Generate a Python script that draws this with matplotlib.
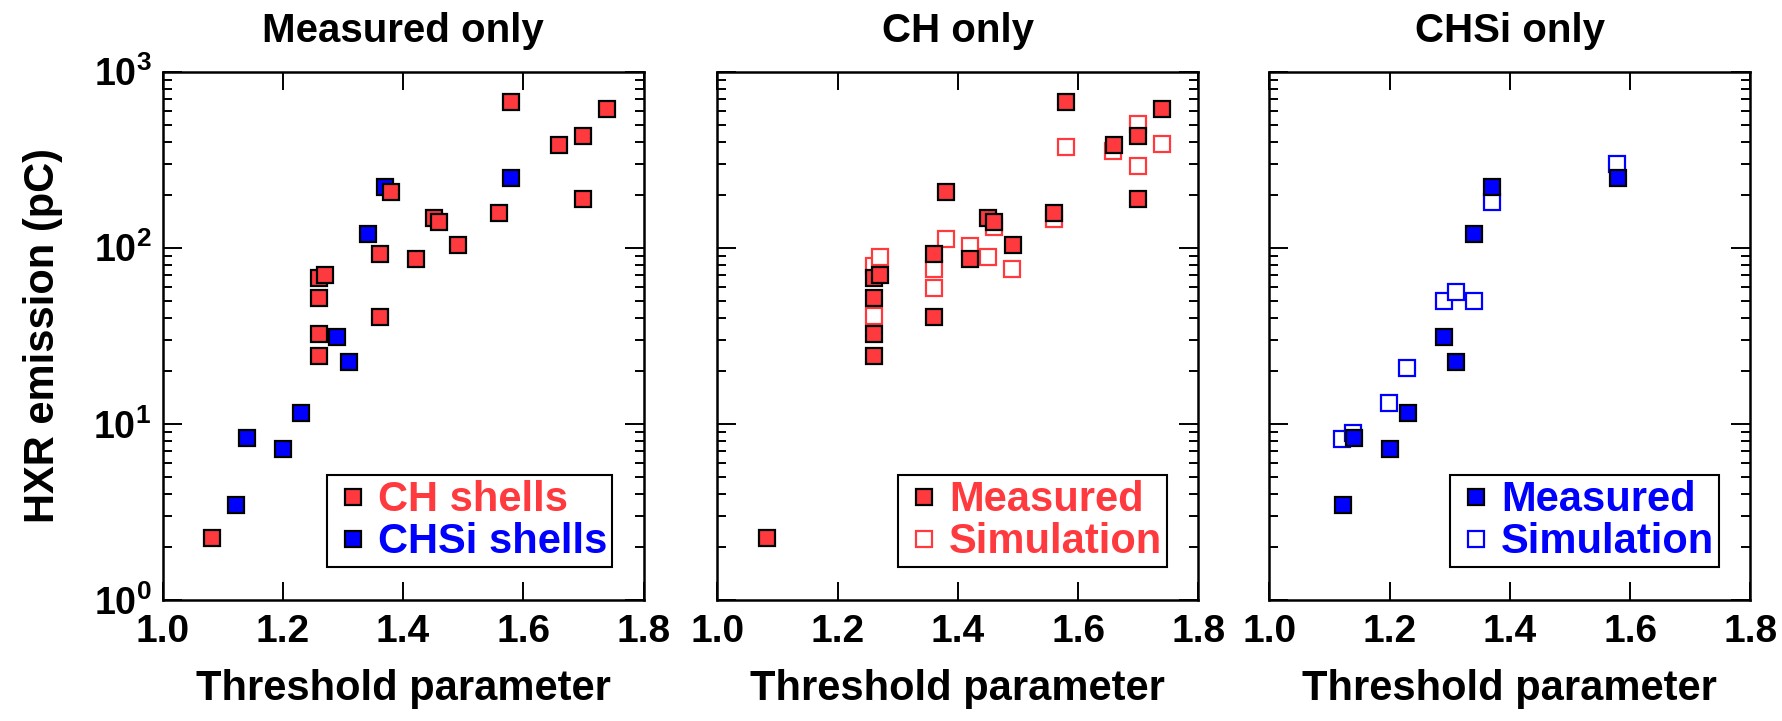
import matplotlib
matplotlib.use("Agg")
import matplotlib.pyplot as plt
from matplotlib.lines import Line2D
from matplotlib.ticker import FixedLocator, LogLocator, NullFormatter, NullLocator

# ---- data ----
# CH shells, measured
ch_x = [1.082, 1.261, 1.261, 1.261, 1.261, 1.270, 1.361, 1.361, 1.380, 1.421,
        1.451, 1.460, 1.491, 1.560, 1.580, 1.659, 1.700, 1.700, 1.740]
ch_y = [2.25, 24.4, 32.4, 51.6, 67.0, 70.0, 40.5, 92.0, 208.0, 86.0,
        148.0, 139.0, 103.0, 157.0, 675.0, 385.0, 430.0, 190.0, 615.0]

# CHSi shells, measured
chsi_x = [1.122, 1.141, 1.201, 1.231, 1.291, 1.310, 1.341, 1.370, 1.580]
chsi_y = [3.45, 8.3, 7.18, 11.5, 31.2, 22.5, 120.0, 220.0, 248.0]

# CH shells, simulation
ch_sim_x = [1.261, 1.270, 1.261, 1.360, 1.360, 1.380, 1.420, 1.450, 1.460,
            1.490, 1.560, 1.580, 1.658, 1.699, 1.699, 1.739]
ch_sim_y = [78.7, 88.3, 41.1, 75.7, 59.4, 112.6, 102.0, 88.3, 131.6,
            75.7, 145.6, 373.0, 353.0, 501.0, 290.0, 390.0]

# CHSi shells, simulation
chsi_sim_x = [1.121, 1.140, 1.199, 1.229, 1.290, 1.310, 1.340, 1.370, 1.579]
chsi_sim_y = [8.2, 8.85, 13.2, 20.7, 50.0, 55.7, 50.0, 182.0, 297.0]

panel_titles = ["Measured only", "CH only", "CHSi only"]
x_ticks = [1.0, 1.2, 1.4, 1.6, 1.8]
x_ticklabels = ["1.0", "1.2", "1.4", "1.6", "1.8"]
y_ticks = [1, 10, 100, 1000]
y_ticklabels = [r"$10^{0}$", r"$10^{1}$", r"$10^{2}$", r"$10^{3}$"]

RED = "#ff3a3f"
BLUE = "#0000ff"

plt.rcParams["font.family"] = ["Liberation Sans", "DejaVu Sans"]
plt.rcParams["font.weight"] = "bold"
plt.rcParams["axes.labelweight"] = "bold"
plt.rcParams["axes.titleweight"] = "bold"
plt.rcParams["mathtext.fontset"] = "custom"
plt.rcParams["mathtext.rm"] = "Liberation Sans:bold"
plt.rcParams["mathtext.it"] = "Liberation Sans:bold"
plt.rcParams["mathtext.bf"] = "Liberation Sans:bold"

MS = 11.5     # marker size (pt)
MEW = 1.6     # marker edge width


def filled(ax, x, y, color):
    ax.plot(x, y, ls="none", marker="s", ms=MS, mfc=color, mec="black", mew=MEW)


def hollow(ax, x, y, color):
    ax.plot(x, y, ls="none", marker="s", ms=MS, mfc="white", mec=color, mew=MEW)


def style_axes(ax, show_ylabels):
    ax.set_xlim(1.0, 1.8)
    ax.set_yscale("log")
    ax.set_ylim(1, 1000)
    ax.set_xticks(x_ticks)
    ax.set_xticklabels(x_ticklabels)
    ax.xaxis.set_minor_locator(NullLocator())
    ax.yaxis.set_major_locator(FixedLocator(y_ticks))
    ax.yaxis.set_minor_locator(LogLocator(base=10, subs=range(2, 10)))
    ax.yaxis.set_minor_formatter(NullFormatter())
    ax.set_yticklabels(y_ticklabels)
    ax.tick_params(which="both", direction="in", top=True, right=True, width=1.4)
    ax.tick_params(axis="x", which="major", length=13, labelsize=28, pad=10)
    ax.tick_params(axis="y", which="major", length=13.7, labelsize=27, pad=8,
                   labelleft=show_ylabels)
    ax.tick_params(axis="y", which="minor", length=6.8)
    for sp in ax.spines.values():
        sp.set_linewidth(1.8)
    ax.set_xlabel("Threshold parameter", fontsize=30, labelpad=14)


def add_legend(ax, handles, labels, color):
    leg = ax.legend(handles, labels, loc="lower right", bbox_to_anchor=(0.935, 0.062),
                    borderaxespad=0, fontsize=30, frameon=True, fancybox=False,
                    framealpha=1, edgecolor="black", borderpad=0.12,
                    labelspacing=0.05, handlelength=1.0, handletextpad=0.1)
    leg.get_frame().set_linewidth(1.5)
    for t in leg.get_texts():
        t.set_color(color)
    return leg


fig = plt.figure(figsize=(17.82, 7.21), dpi=100)
lefts = [162.5, 717.3, 1269.3]
axes = [fig.add_axes([l / 1782, 121 / 721, 481 / 1782, 528.5 / 721]) for l in lefts]

# Panel 1: measured data for both shell types
ax = axes[0]
filled(ax, chsi_x, chsi_y, BLUE)
filled(ax, ch_x, ch_y, RED)
h_ch = Line2D([], [], ls="none", marker="s", ms=MS, mfc=RED, mec="black", mew=MEW)
h_chsi = Line2D([], [], ls="none", marker="s", ms=MS, mfc=BLUE, mec="black", mew=MEW)
leg = add_legend(ax, [h_ch, h_chsi], ["CH shells", "CHSi shells"], RED)
leg.get_texts()[1].set_color(BLUE)
ax.set_ylabel("HXR emission (pC)", fontsize=30, labelpad=22)

# Panel 2: CH measured vs simulation
ax = axes[1]
hollow(ax, ch_sim_x, ch_sim_y, RED)
filled(ax, ch_x, ch_y, RED)
h_m = Line2D([], [], ls="none", marker="s", ms=MS, mfc=RED, mec="black", mew=MEW)
h_s = Line2D([], [], ls="none", marker="s", ms=MS, mfc="white", mec=RED, mew=MEW)
add_legend(ax, [h_m, h_s], ["Measured", "Simulation"], RED)

# Panel 3: CHSi measured vs simulation
ax = axes[2]
hollow(ax, chsi_sim_x, chsi_sim_y, BLUE)
filled(ax, chsi_x, chsi_y, BLUE)
h_m = Line2D([], [], ls="none", marker="s", ms=MS, mfc=BLUE, mec="black", mew=MEW)
h_s = Line2D([], [], ls="none", marker="s", ms=MS, mfc="white", mec=BLUE, mew=MEW)
add_legend(ax, [h_m, h_s], ["Measured", "Simulation"], BLUE)

for i, ax in enumerate(axes):
    style_axes(ax, show_ylabels=(i == 0))
    ax.set_title(panel_titles[i], fontsize=29, pad=21)

fig.savefig("out.png", dpi=100)
